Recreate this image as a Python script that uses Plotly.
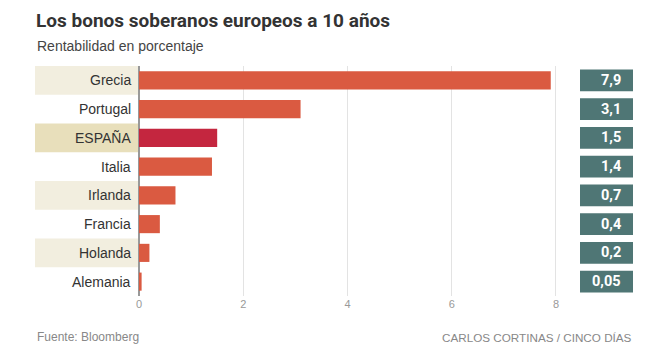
import plotly.graph_objects as go

countries = ["Grecia", "Portugal", "ESPAÑA", "Italia", "Irlanda", "Francia", "Holanda", "Alemania"]
values = [7.9, 3.1, 1.5, 1.4, 0.7, 0.4, 0.2, 0.05]
value_labels = ["7,9", "3,1", "1,5", "1,4", "0,7", "0,4", "0,2", "0,05"]
x_ticks = [0, 2, 4, 6, 8]

W, H = 664, 350
L, R, T, B = 139, 107, 66, 54
pw, ph = W - L - R, H - T - B

def px_x(p):
    return (p - L) / pw

def px_y(p):
    return (H - B - p) / ph

bar_colors = ["#c4263f" if c == "ESPAÑA" else "#da5a41" for c in countries]

fig = go.Figure(go.Bar(
    x=values, y=countries, orientation="h",
    marker=dict(color=bar_colors, line=dict(width=0)),
    width=0.63, hoverinfo="skip",
))

SANS = "Liberation Sans, Arial, sans-serif"
COND = "Roboto, Arial, sans-serif"
shapes = []
annotations = []
for i, c in enumerate(countries):
    if i % 2 == 0:
        shapes.append(dict(type="rect", xref="paper", yref="y", layer="below",
                           x0=px_x(35), x1=px_x(138.5), y0=i - 0.5, y1=i + 0.5,
                           fillcolor="#e8dfbb" if c == "ESPAÑA" else "#f2eedf", line=dict(width=0)))
    annotations.append(dict(xref="x", yref="y", x=0, y=c, xshift=-6, xanchor="right", yanchor="middle",
                            text=c, showarrow=False,
                            font=dict(family=SANS, size=14, color="#333")))
    shapes.append(dict(type="rect", xref="paper", yref="y",
                       x0=px_x(580), x1=px_x(633), y0=i - 0.38, y1=i + 0.38,
                       fillcolor="#4f7675", line=dict(width=0)))
    annotations.append(dict(xref="paper", yref="y", x=px_x(623), y=c, xanchor="right", yanchor="middle",
                            text="<b>" + value_labels[i] + "</b>", showarrow=False,
                            font=dict(family=COND, size=14.5, color="white")))

annotations += [
    dict(xref="paper", yref="paper", x=px_x(34), y=px_y(20), xanchor="left", yanchor="middle",
         text="<b>Los bonos soberanos europeos a 10 años</b>", showarrow=False,
         font=dict(family=COND, size=19, color="#333")),
    dict(xref="paper", yref="paper", x=px_x(35), y=px_y(46), xanchor="left", yanchor="middle",
         text="Rentabilidad en porcentaje", showarrow=False,
         font=dict(family=SANS, size=14, color="#444")),
    dict(xref="paper", yref="paper", x=px_x(35), y=px_y(337), xanchor="left", yanchor="middle",
         text="Fuente: Bloomberg", showarrow=False,
         font=dict(family=SANS, size=12, color="#888")),
    dict(xref="paper", yref="paper", x=px_x(634), y=px_y(337), xanchor="right", yanchor="middle",
         text="CARLOS CORTINAS / CINCO DÍAS", showarrow=False,
         font=dict(family=SANS, size=11.7, color="#888")),
]

fig.update_layout(
    width=W, height=H, margin=dict(l=L, r=R, t=T, b=B),
    paper_bgcolor="white", plot_bgcolor="white",
    showlegend=False, shapes=shapes, annotations=annotations,
    xaxis=dict(range=[0, 8.02], tickvals=x_ticks, ticktext=[str(v) for v in x_ticks],
               showgrid=True, gridcolor="#e3e3e3", gridwidth=1,
               zeroline=True, zerolinecolor="#999", zerolinewidth=1.5,
               showline=False, ticks="", fixedrange=True,
               tickfont=dict(family=SANS, size=11, color="#999")),
    yaxis=dict(categoryorder="array", categoryarray=countries, range=[7.5, -0.5],
               showticklabels=False, showgrid=False, zeroline=False, ticks="", fixedrange=True),
)

fig.write_html("out.html")
